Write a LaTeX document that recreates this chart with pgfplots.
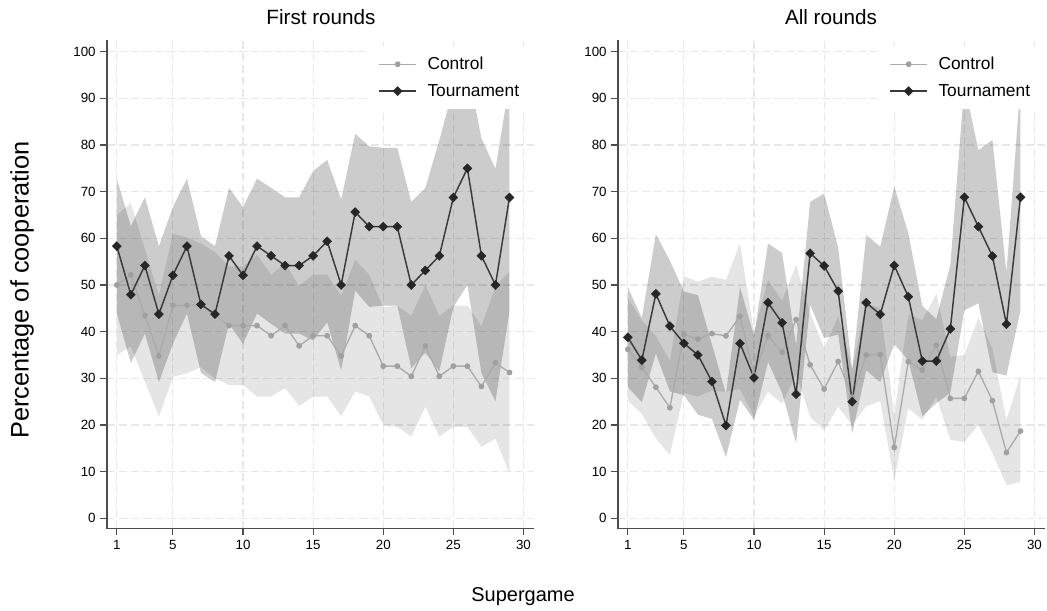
\documentclass[border=0pt]{standalone}
\usepackage{fontspec}
\setmainfont{Liberation Sans}
\usepackage{pgfplots}
\pgfplotsset{compat=1.18}
\usepgfplotslibrary{fillbetween}
\usepackage{pgfplotstable}

\pgfplotstableread{
x m lo hi
1 58.33 43.9 72.8
2 47.92 33.3 62.6
3 54.17 39.6 68.8
4 43.75 29.2 58.3
5 52.08 37.4 66.7
6 58.33 43.9 72.8
7 45.83 31.2 60.5
8 43.75 29.2 58.3
9 56.25 41.7 70.8
10 52.08 37.4 66.7
11 58.33 43.9 72.8
12 56.25 41.7 70.8
13 54.17 39.6 68.8
14 54.17 39.6 68.8
15 56.25 38.1 74.4
16 59.38 42.0 76.8
17 50.00 31.7 68.3
18 65.63 48.8 82.4
19 62.50 45.3 79.7
20 62.50 45.6 79.4
21 62.50 45.6 79.4
22 50.00 32.2 67.8
23 53.13 35.5 70.8
24 56.25 31.5 81.0
25 68.75 45.3 92.2
26 75.00 50.0 97.0
27 56.25 31.1 81.4
28 50.00 25.1 74.9
29 68.75 44.3 93.2
}\leftT

\pgfplotstableread{
x m lo hi
1 50.00 35.0 65.0
2 52.17 36.8 67.5
3 43.48 29.3 57.7
4 34.78 21.8 47.8
5 45.65 30.3 61.0
6 45.65 31.1 60.2
7 45.65 32.4 58.9
8 43.48 30.0 57.0
9 41.30 28.6 54.0
10 41.30 28.6 54.0
11 41.30 26.1 56.5
12 39.13 26.1 52.2
13 41.30 27.9 54.7
14 36.96 24.1 49.8
15 39.13 26.1 52.2
16 39.13 26.1 52.2
17 34.78 21.9 47.7
18 41.30 27.2 55.4
19 39.13 26.1 52.2
20 32.61 20.0 45.2
21 32.61 19.6 45.6
22 30.43 17.5 43.4
23 36.96 23.9 50.0
24 30.43 17.5 43.4
25 32.61 19.6 45.6
26 32.61 19.6 45.6
27 28.26 15.3 41.2
28 33.33 17.1 49.6
29 31.25 9.6 53.0
}\leftC

\pgfplotstableread{
x m lo hi
1 38.8 28.1 49.5
2 33.9 24.9 42.9
3 48.1 35.3 60.9
4 41.2 27.2 55.2
5 37.5 26.4 48.6
6 35.0 22.2 47.8
7 29.3 21.3 37.3
8 19.9 13.1 26.7
9 37.5 25.4 49.6
10 30.1 21.1 39.1
11 46.2 33.5 58.9
12 41.9 26.9 56.9
13 26.6 16.1 37.1
14 56.8 45.8 67.8
15 54.1 38.6 69.6
16 48.7 39.4 58.0
17 25.0 18.2 31.8
18 46.2 31.7 60.7
19 43.7 29.2 58.2
20 54.2 37.3 71.1
21 47.5 33.9 61.1
22 33.7 21.9 45.5
23 33.7 24.7 42.7
24 40.6 26.9 54.3
25 68.8 44.6 93.0
26 62.5 46.1 78.9
27 56.2 31.3 81.1
28 41.6 30.6 52.6
29 68.8 44.6 93.0
}\rightT

\pgfplotstableread{
x m lo hi
1 36.2 25.2 47.2
2 32.4 22.4 42.4
3 28.1 17.1 39.1
4 23.7 13.6 33.8
5 39.4 26.9 51.9
6 38.4 26.1 50.7
7 39.6 27.4 51.8
8 39.1 27.1 51.1
9 43.3 27.7 58.9
10 30.8 21.8 39.8
11 39.1 27.1 51.1
12 35.6 24.6 46.6
13 42.6 30.9 54.3
14 32.9 21.8 44.0
15 27.7 18.9 36.5
16 33.6 23.9 43.3
17 26.0 20.0 32.0
18 35.0 24.0 46.0
19 35.1 25.1 45.1
20 15.2 8.2 22.2
21 33.6 23.6 43.6
22 31.8 21.1 42.5
23 37.1 26.1 48.1
24 25.7 16.8 34.6
25 25.7 16.4 35.0
26 31.5 20.0 43.0
27 25.2 14.0 36.4
28 14.1 7.1 21.1
29 18.7 7.8 30.7
}\rightC

\definecolor{tline}{HTML}{3A3A3A}
\definecolor{tmark}{HTML}{262626}
\definecolor{cline}{HTML}{ABABAB}
\definecolor{cmark}{HTML}{A0A0A0}
\definecolor{axcol}{HTML}{4D4D4D}

\pgfplotsset{
  panel/.style={
    scale only axis, width=320.25pt, height=366.45pt,
    xmin=0.3, xmax=30.75, ymin=-2.2, ymax=102.5,
    axis x line*=bottom, axis y line*=left,
    axis line style={draw=axcol, line width=0.8pt},
    tick align=outside, major tick length=5pt,
    tick style={draw=axcol, line width=0.8pt},
    xtick={1,5,10,15,20,25,30}, ytick={0,10,...,100},
    grid=major,
    grid style={draw=black!9, line width=0.8pt, dash pattern=on 6pt off 3pt},
    tick label style={font=\fontsize{10}{12}\selectfont},
    /pgf/number format/assume math mode=true,
    legend cell align=left,
    legend style={draw=none, fill=white, font=\fontsize{13}{15}\selectfont,
      at={(rel axis cs:1,1)}, anchor=north east, yshift=-4.5pt, row sep=5.5pt,
      inner xsep=9pt, inner ysep=6pt},
    legend image code/.code={\draw[mark repeat=2,mark phase=2,##1] plot coordinates {(0pt,0pt) (13.9pt,0pt) (27.75pt,0pt)}; \path (33.75pt,0pt);},
  },
  tstyle/.style={tline, line width=1.1pt, mark=square*, mark size=2.4pt,
    mark options={rotate=45, fill=tmark, draw=tmark, line width=0.3pt}},
  cstyle/.style={cline, line width=1.0pt, mark=*, mark size=1.65pt,
    mark options={fill=cmark, draw=cmark}},
}

\begin{document}
\begin{tikzpicture}

\begin{axis}[panel, at={(80.25pt,61.05pt)}, anchor=south west]
\addplot[draw=none, name path=CU, forget plot] table[x=x,y=hi]{\leftC};
\addplot[draw=none, name path=CL, forget plot] table[x=x,y=lo]{\leftC};
\addplot[fill=black, fill opacity=0.1, draw=none, forget plot] fill between[of=CU and CL];
\addplot[draw=none, name path=TU, forget plot] table[x=x,y=hi]{\leftT};
\addplot[draw=none, name path=TL, forget plot] table[x=x,y=lo]{\leftT};
\addplot[fill=black, fill opacity=0.2, draw=none, forget plot] fill between[of=TU and TL];
\addplot[cstyle] table[x=x,y=m]{\leftC};
\addlegendentry{Control}
\addplot[tstyle] table[x=x,y=m]{\leftT};
\addlegendentry{Tournament}
\end{axis}

\begin{axis}[panel, at={(463.5pt,61.05pt)}, anchor=south west]
\addplot[draw=none, name path=CU, forget plot] table[x=x,y=hi]{\rightC};
\addplot[draw=none, name path=CL, forget plot] table[x=x,y=lo]{\rightC};
\addplot[fill=black, fill opacity=0.1, draw=none, forget plot] fill between[of=CU and CL];
\addplot[draw=none, name path=TU, forget plot] table[x=x,y=hi]{\rightT};
\addplot[draw=none, name path=TL, forget plot] table[x=x,y=lo]{\rightT};
\addplot[fill=black, fill opacity=0.2, draw=none, forget plot] fill between[of=TU and TL];
\addplot[cstyle] table[x=x,y=m]{\rightC};
\addlegendentry{Control}
\addplot[tstyle] table[x=x,y=m]{\rightT};
\addlegendentry{Tournament}
\end{axis}

\node[font=\fontsize{15.5}{18}\selectfont] at (240.75pt,444.75pt) {First rounds};
\node[font=\fontsize{15.5}{18}\selectfont] at (623.25pt,444.75pt) {All rounds};
\node[font=\fontsize{19}{22}\selectfont, rotate=90] at (16.5pt,240pt) {Percentage of cooperation};
\node[font=\fontsize{15}{18}\selectfont] at (392.25pt,9.75pt) {Supergame};
\path (0pt,0pt) rectangle (785.25pt,457.5pt);
\end{tikzpicture}
\end{document}
